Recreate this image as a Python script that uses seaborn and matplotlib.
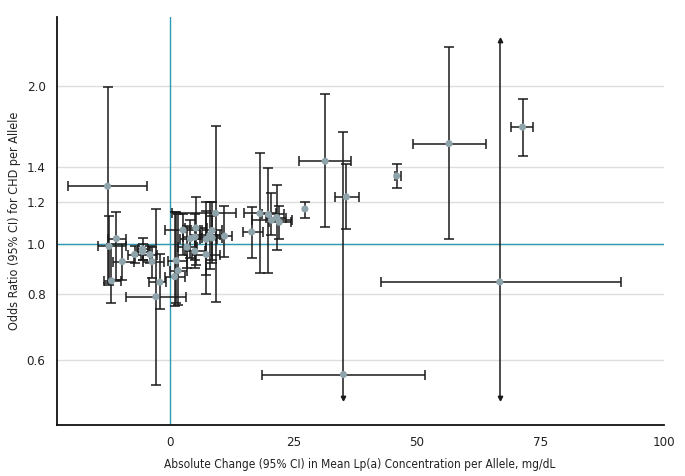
import numpy as np
import pandas as pd
import matplotlib
matplotlib.use("Agg")
import matplotlib.pyplot as plt
import seaborn as sns
from matplotlib import font_manager

# ---- data ----
x_change = [-12.7, -10.9, -12.4, -11.9, -9.7, -7.2, -5.6, -5.6, -4.1, -3.7, -2.9, -2.1,
            0.9, 1.25, 1.6, 2.6, 5.2, 4.1, 5.0, 3.4, 5.0, 7.3, 7.3, 8.0, 8.5, 8.5, 11.0, 9.2,
            16.5, 18.2, 19.9, 20.5, 21.6, 22.1, 27.3, 31.4, 35.7, 35.1, 45.9, 56.5, 71.4, 66.8]
x_lo = [-20.7, -12.7, -14.6, -13.4, -11.6, -8.5, -6.5, -6.8, -5.6, -5.5, -8.9, -4.2,
        -1.0, -0.5, 0.0, -1.0, 3.0, 2.0, 2.5, 1.5, 3.0, 4.5, 5.0, 6.0, 6.5, 6.5, 9.2, 0.4,
        14.8, 15.0, 18.6, 16.6, 19.5, 20.0, 27.3, 26.2, 33.3, 18.6, 45.5, 49.3, 69.1, 42.8]
x_hi = [-4.7, -8.9, -8.9, -10.0, -7.4, -6.0, -4.5, -4.3, -2.6, -1.3, 3.1, -0.9,
        3.0, 3.5, 3.5, 6.0, 7.5, 6.0, 7.5, 5.5, 7.0, 10.0, 9.5, 10.0, 10.5, 10.5, 12.6, 13.4,
        18.8, 21.5, 23.0, 24.7, 23.5, 24.5, 27.3, 36.7, 38.2, 51.6, 46.7, 63.9, 73.6, 91.4]
odds_ratio = [1.286, 1.022, 0.988, 0.849, 0.924, 0.953, 0.977, 0.965, 0.953, 0.924, 0.792, 0.844,
              0.865, 0.928, 0.888, 1.061, 1.071, 1.022, 1.029, 0.984, 0.967, 0.953, 1.019, 1.037,
              1.059, 1.025, 1.033, 1.142,
              1.052, 1.141, 1.136, 1.108, 1.121, 1.098, 1.164, 1.435, 1.227, 0.563, 1.345, 1.55,
              1.667, 0.845]
or_lo = [0.84, 0.854, 0.833, 0.772, 0.854, 0.92, 0.93, 0.93, 0.92, 0.86, 0.537, 0.749,
         0.76, 0.77, 0.765, 0.95, 0.91, 0.94, 0.93, 0.90, 0.90, 0.803, 0.87, 0.896,
         0.92, 0.93, 0.942, 0.775,
         0.94, 0.877, 0.88, 1.036, 0.974, 1.019, 1.12, 1.077, 1.065, 0.30, 1.278, 1.018,
         1.471, 0.30]
or_hi = [1.99, 1.146, 1.13, 1.0, 1.0, 0.99, 1.026, 1.0, 0.99, 0.985, 1.166, 0.957,
         1.15, 1.15, 1.14, 1.14, 1.224, 1.11, 1.14, 1.08, 1.04, 1.156, 1.20, 1.20,
         1.20, 1.13, 1.178, 1.678,
         1.174, 1.49, 1.396, 1.248, 1.293, 1.18, 1.20, 1.93, 1.416, 1.63, 1.42, 2.37,
         1.889, 3.50]

y_ticks = [0.6, 0.8, 1.0, 1.2, 1.4, 2.0]
y_tick_labels = ["0.6", "0.8", "1.0", "1.2", "1.4", "2.0"]
x_ticks = [0, 25, 50, 75, 100]
x_tick_labels = ["0", "25", "50", "75", "100"]

df = pd.DataFrame({"x": x_change, "xlo": x_lo, "xhi": x_hi,
                   "or": odds_ratio, "lo": or_lo, "hi": or_hi})

sns.set_style("white")

# pick a condensed sans-serif font file if one is installed
cond_file = None
files = font_manager.findSystemFonts()
prefs = ["LiberationSansNarrow-Regular", "DejaVuSansCondensed.ttf", "Condensed-Regular",
         "Narrow-Regular", "SemiCondensed-Regular", "Condensed"]
for p in prefs:
    for f in files:
        base = f.split("/")[-1]
        if p in base and "Bold" not in base and "Italic" not in base and "Oblique" not in base:
            cond_file = f
            break
    if cond_file:
        break
plt.rcParams["font.family"] = ["DejaVu Sans"]


def fp(size):
    if cond_file:
        return font_manager.FontProperties(fname=cond_file, size=size)
    return font_manager.FontProperties(family="DejaVu Sans", size=size * 0.85)


fig = plt.figure(figsize=(6.85, 4.76), dpi=100)
ax = fig.add_axes([0.0828, 0.107, 0.886, 0.857])
ax.set_yscale("log")
ymin, ymax = 0.451, 2.70
ax.set_xlim(-23, 100)
ax.set_ylim(ymin, ymax)
clip_lo, clip_hi = 0.507, 2.44

teal = "#2b9bb3"
for t in y_ticks:
    ax.axhline(t, color="#dddddd", lw=1.0, zorder=0)
ax.axhline(1.0, color=teal, lw=1.0, zorder=1)
ax.axvline(0, color=teal, lw=1.0, zorder=1)

ecol = "#1a1a1a"
lw = 1.1
cap = 6.5
for _, r in df.iterrows():
    lo = max(r["lo"], clip_lo)
    hi = min(r["hi"], clip_hi)
    ax.vlines(r["x"], lo, hi, color=ecol, lw=lw, zorder=2)
    if r["xhi"] > r["xlo"]:
        ax.hlines(r["or"], r["xlo"], r["xhi"], color=ecol, lw=lw, zorder=2)
        ax.plot([r["xlo"], r["xhi"]], [r["or"], r["or"]], ls="none", marker="|",
                ms=cap, mew=lw, color=ecol, zorder=2)
    if r["lo"] >= clip_lo:
        ax.plot([r["x"]], [lo], ls="none", marker="_", ms=cap, mew=lw, color=ecol, zorder=2)
    else:
        ax.plot([r["x"]], [lo], ls="none", marker="v", ms=3.2, color=ecol, zorder=2)
    if r["hi"] <= clip_hi:
        ax.plot([r["x"]], [hi], ls="none", marker="_", ms=cap, mew=lw, color=ecol, zorder=2)
    else:
        ax.plot([r["x"]], [hi], ls="none", marker="^", ms=3.2, color=ecol, zorder=2)

sns.scatterplot(data=df, x="x", y="or", ax=ax, color="#8fa3ab", s=26,
                edgecolor="none", zorder=3, legend=False)

ax.set_yticks(y_ticks)
ax.set_yticklabels(y_tick_labels, fontproperties=fp(9.5))
ax.yaxis.set_minor_locator(matplotlib.ticker.NullLocator())
ax.set_xticks(x_ticks)
ax.set_xticklabels(x_tick_labels, fontproperties=fp(9.5))
ax.tick_params(axis="both", which="major", direction="out", length=4, width=1,
               color="#222222", labelcolor="#222222", pad=3)
ax.tick_params(axis="x", pad=4)
ax.tick_params(axis="y", length=5)

for s in ["top", "right"]:
    ax.spines[s].set_visible(False)
for s in ["left", "bottom"]:
    ax.spines[s].set_color("#111111")
    ax.spines[s].set_linewidth(1.3)

ax.set_xlabel("Absolute Change (95% CI) in Mean Lp(a) Concentration per Allele, mg/dL",
              fontproperties=fp(8.6), color="#222222", labelpad=6)
ax.set_ylabel("Odds Ratio (95% CI) for CHD per Allele", fontproperties=fp(9),
              color="#222222", labelpad=4)

fig.savefig("out.png", dpi=100, facecolor="white")
